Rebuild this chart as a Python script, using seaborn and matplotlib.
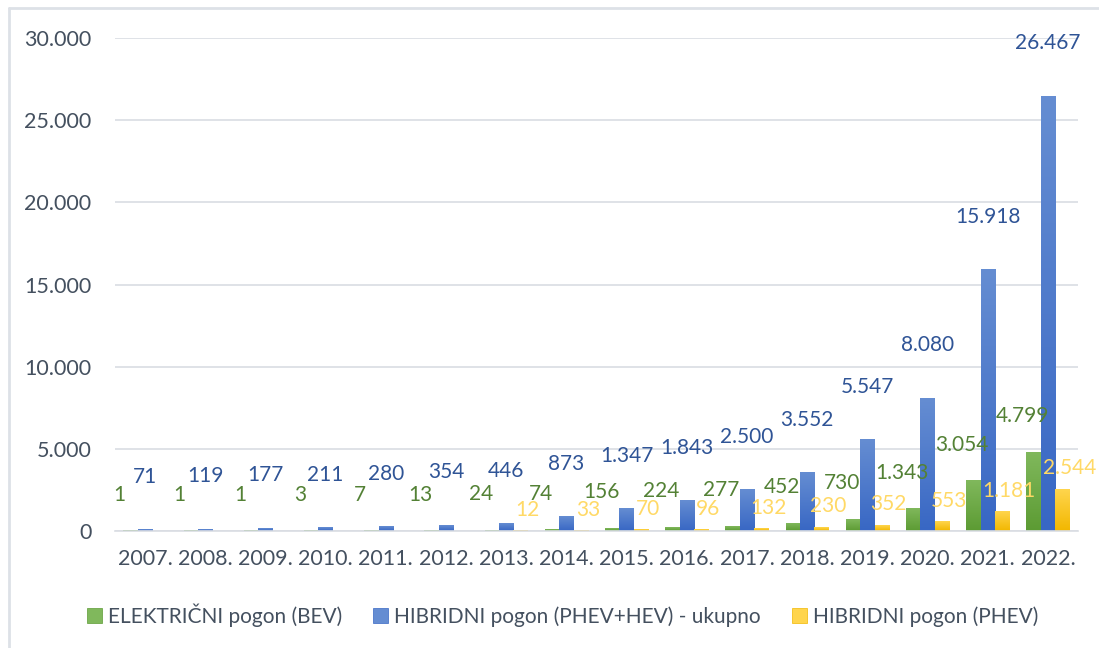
import pandas as pd
import numpy as np
import seaborn as sns
import matplotlib.pyplot as plt
from matplotlib.colors import LinearSegmentedColormap
from matplotlib.lines import Line2D
from matplotlib.patches import Patch

# data
years = ['2007.', '2008.', '2009.', '2010.', '2011.', '2012.', '2013.', '2014.',
         '2015.', '2016.', '2017.', '2018.', '2019.', '2020.', '2021.', '2022.']
bev = [1, 1, 1, 3, 7, 13, 24, 74, 156, 224, 277, 452, 730, 1343, 3054, 4799]
hybrid_total = [71, 119, 177, 211, 280, 354, 446, 873, 1347, 1843, 2500, 3552,
                5547, 8080, 15918, 26467]
# PHEV only reported from 2013 on
phev_years = years[6:]
phev = [12, 33, 70, 96, 132, 230, 352, 553, 1181, 2544]

series_names = ['ELEKTRIČNI pogon (BEV)', 'HIBRIDNI pogon (PHEV+HEV) - ukupno',
                'HIBRIDNI pogon (PHEV)']

rows = []
for y, v in zip(years, bev):
    rows.append((y, series_names[0], v))
for y, v in zip(years, hybrid_total):
    rows.append((y, series_names[1], v))
for y, v in zip(phev_years, phev):
    rows.append((y, series_names[2], v))
df = pd.DataFrame(rows, columns=['godina', 'serija', 'broj'])

# (top colour, bottom colour, label colour, label offset in points)
styles = {
    series_names[0]: ('#80b85c', '#5c9b33', '#538135', (-8, 26)),
    series_names[1]: ('#658dd2', '#3867c4', '#2f5496', (0, 38)),
    series_names[2]: ('#ffd54d', '#f2b700', '#ffd966', (5, 15)),
}

sns.set_theme(style='white')
plt.rcParams['font.family'] = ['Lato', 'DejaVu Sans']
text_col = '#44505f'

fig = plt.figure(figsize=(10.99, 6.48), dpi=100)
ax = fig.add_axes([0.1046, 0.1806, 0.981 - 0.1046, 0.941 - 0.1806])

sns.barplot(data=df, x='godina', y='broj', hue='serija', order=years,
            hue_order=series_names, width=0.72, dodge=True, ax=ax,
            palette=[styles[s][1] for s in series_names], legend=False)

ax.set_ylim(0, 30000)
ax.set_yticks(range(0, 30001, 5000))
ax.set_yticklabels([f'{t:,}'.replace(',', '.') for t in range(0, 30001, 5000)])
ax.yaxis.grid(True, color='#d9dde3', linewidth=1.2)
ax.set_axisbelow(True)
for s in ['top', 'right', 'left']:
    ax.spines[s].set_visible(False)
ax.spines['bottom'].set_color('#d9dde3')
ax.spines['bottom'].set_linewidth(1.2)
ax.tick_params(axis='both', length=0, labelsize=15.5, colors=text_col)
ax.tick_params(axis='x', pad=13)
ax.tick_params(axis='y', pad=17)
ax.set_xlabel('')
ax.set_ylabel('')

# gradient fill + value labels
grad = np.linspace(0, 1, 100).reshape(-1, 1)
for name, cont in zip(series_names, ax.containers):
    top, bottom, lab_col, (dx, dy) = styles[name]
    cmap = LinearSegmentedColormap.from_list(name, [bottom, top])
    for bar in cont:
        h = bar.get_height()
        if np.isnan(h) or h <= 0:
            continue
        x0 = bar.get_x()
        w = bar.get_width()
        bar.set_visible(False)
        ax.imshow(grad, extent=(x0, x0 + w, 0, h), origin='lower', cmap=cmap,
                  aspect='auto', zorder=2, interpolation='bilinear')
        ax.annotate(f'{int(h):,}'.replace(',', '.'), (x0 + w / 2, h),
                    xytext=(dx, dy), textcoords='offset points',
                    ha='center', va='center', fontsize=15, color=lab_col)
ax.set_xlim(-0.5, len(years) - 0.5)
ax.set_ylim(0, 30000)

handles = [Patch(facecolor=styles[s][0], edgecolor=styles[s][1], linewidth=0.5)
           for s in series_names]
leg = fig.legend(handles, series_names, loc='center', bbox_to_anchor=(0.512, 0.051),
                 ncol=3, frameon=False, fontsize=15, handlelength=0.7,
                 handleheight=0.7, handletextpad=0.3, columnspacing=1.5)
for t in leg.get_texts():
    t.set_color(text_col)

# chart frame (left and top edges visible in the reference)
fig.add_artist(Line2D([0.0078, 0.0078], [0, 0.988], color='#dde1e7', linewidth=2,
                      transform=fig.transFigure))
fig.add_artist(Line2D([0.0078, 1], [0.988, 0.988], color='#dde1e7', linewidth=2,
                      transform=fig.transFigure))

fig.savefig('out.png', dpi=100)
